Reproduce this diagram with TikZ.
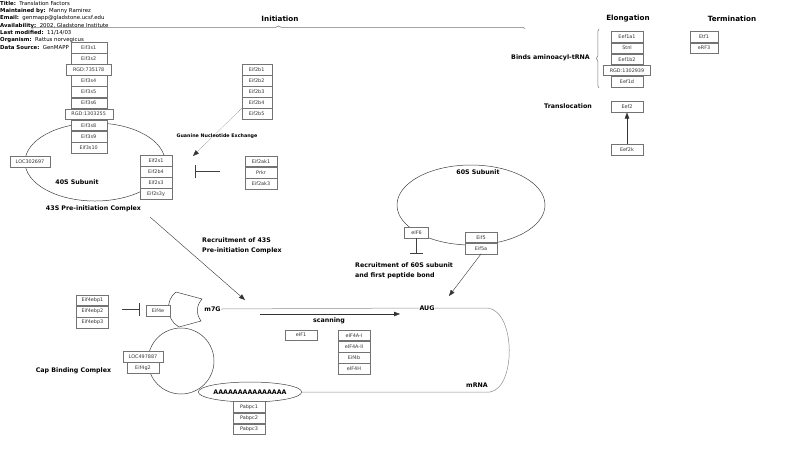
\documentclass[tikz,border=0pt]{standalone}
\usepackage{fontspec}
\setmainfont{DejaVu Sans}
\usetikzlibrary{positioning,arrows.meta,decorations.pathreplacing,shapes.geometric}

\tikzset{
  gene/.style={draw=black!55, fill=white, minimum width=32pt, minimum height=10.7pt, inner sep=0pt, text=black!80, font=\fontsize{4.9}{5.5}\selectfont},
  lbl/.style={font=\fontsize{6.3}{10}\selectfont\bfseries, align=left, inner sep=0pt},
  phase/.style={font=\fontsize{7.2}{8}\selectfont\bfseries},
  part/.style={draw=black!75, line width=0.5pt},
  rna/.style={draw=black!45, line width=0.5pt},
  act/.style={-{Triangle[length=6pt,width=4.5pt]}, black!80, line width=0.4pt},
  inh/.style={-{Bar[width=13pt]}, black!75, line width=0.5pt},
  phasebrace/.style={draw=black!55, line width=0.5pt, decorate, decoration={brace, amplitude=2.5pt}}
}

\begin{document}
\begin{tikzpicture}[x=1pt, y=-1pt]
\useasboundingbox (0,0) rectangle (800,475);

\node[anchor=north west, inner sep=0pt, align=left, font=\fontsize{5.4}{7.33}\selectfont] (meta) at (0,0.8) {%
  \textbf{Title:}\ \ Translation Factors\\
  \textbf{Maintained by:}\ \ Manny Ramirez\\
  \textbf{Email:}\ \ genmapp@gladstone.ucsf.edu\\
  \textbf{Availability:}\ \ 2002, Gladstone Institute\\
  \textbf{Last modified:}\ \ 11/14/03\\
  \textbf{Organism:}\ \ Rattus norvegicus\\
  \textbf{Data Source:}\ \ GenMAPP};

% phases
\draw[phasebrace] (32,28.5) -- (525,28.5);
\node[phase] (init) at (280,19) {Initiation};
\node[phase] (elong) at (628,19) {Elongation};
\node[phase] (term) at (732,19) {Termination};
\draw[phasebrace] (599,88) -- (599,29);
\node[lbl, anchor=east] (tRNA) at (590,58) {Binds aminoacyl-tRNA};

% elongation and termination
\node[gene] (Eef1a1) at (627,37) {Eef1a1};
\node[gene, below=0pt of Eef1a1] (Stnl) {Stnl};
\node[gene, below=0pt of Stnl] (Eef1b2) {Eef1b2};
\node[gene, minimum width=47pt, below=0pt of Eef1b2] (RGD1302939) {RGD:1302939};
\node[gene, below=0pt of RGD1302939] (Eef1d) {Eef1d};
\node[gene, minimum width=28pt] (Etf1) at (704,37) {Etf1};
\node[gene, minimum width=28pt, below=0pt of Etf1] (eRF3) {eRF3};
\node[lbl, anchor=east] (transloc) at (592,106) {Translocation};
\node[gene] (Eef2) at (627,107) {Eef2};
\node[gene] (Eef2k) at (627,150) {Eef2k};
\draw[act] (Eef2k) -- (Eef2);

% 40S subunit
\draw[part] (95,162) ellipse [x radius=70, y radius=39];
\node[gene, minimum width=36pt] (Eif3s1) at (88.7,47.6) {Eif3s1};
\node[gene, minimum width=36pt, below=0pt of Eif3s1] (Eif3s2) {Eif3s2};
\node[gene, minimum width=45pt, below=0pt of Eif3s2] (RGD735178) {RGD:735178};
\node[gene, minimum width=36pt, below=0pt of RGD735178] (Eif3s4) {Eif3s4};
\node[gene, minimum width=36pt, below=0pt of Eif3s4] (Eif3s5) {Eif3s5};
\node[gene, minimum width=36pt, below=0pt of Eif3s5] (Eif3s6) {Eif3s6};
\node[gene, minimum width=48pt, below=0pt of Eif3s6] (RGD1303255) {RGD:1303255};
\node[gene, minimum width=36pt, below=0pt of RGD1303255] (Eif3s8) {Eif3s8};
\node[gene, minimum width=36pt, below=0pt of Eif3s8] (Eif3s9) {Eif3s9};
\node[gene, minimum width=36pt, below=0pt of Eif3s9] (Eif3s10) {Eif3s10};
\node[gene, minimum width=40pt] (LOC302697) at (30,161.5) {LOC302697};
\node[gene] (Eif2s1) at (156,160.5) {Eif2s1};
\node[gene, below=0pt of Eif2s1] (Eif2b4s) {Eif2b4};
\node[gene, below=0pt of Eif2b4s] (Eif2s3) {Eif2s3};
\node[gene, below=0pt of Eif2s3] (Eif2s3y) {Eif2s3y};
\node[lbl] (sub40) at (77,182) {40S Subunit};
\node[lbl] (pre43) at (93.5,209) {43S Pre-initiation Complex};

% eIF2 exchange and kinases
\node[gene, minimum width=30pt] (Eif2b1) at (256.7,69.4) {Eif2b1};
\node[gene, minimum width=30pt, below=0pt of Eif2b1] (Eif2b2) {Eif2b2};
\node[gene, minimum width=30pt, below=0pt of Eif2b2] (Eif2b3) {Eif2b3};
\node[gene, minimum width=30pt, below=0pt of Eif2b3] (Eif2b4) {Eif2b4};
\node[gene, minimum width=30pt, below=0pt of Eif2b4] (Eif2b5) {Eif2b5};
\coordinate (gnetip) at (193,156);
\draw[act, densely dotted] (Eif2b4.south west) -- (gnetip);
\node[lbl, font=\fontsize{4.8}{5}\selectfont\bfseries] (gne) at (217,135.7) {Guanine Nucleotide Exchange};
\node[gene] (Eif2ak1) at (261,161.3) {Eif2ak1};
\node[gene, below=0pt of Eif2ak1] (Prkr) {Prkr};
\node[gene, below=0pt of Prkr] (Eif2ak3) {Eif2ak3};
\coordinate (akfrom) at (220,171.7);
\coordinate (akbar) at (195,171.7);
\draw[inh] (akfrom) -- (akbar);

% recruitment of 43S
\coordinate (r43from) at (150,217);
\coordinate (r43tip) at (245,300);
\draw[act] (r43from) -- (r43tip);
\node[lbl, anchor=north west] (r43) at (202,237.5) {Recruitment of 43S\\Pre-initiation Complex};

% 60S subunit
\draw[part] (471,205) ellipse [x radius=74, y radius=40];
\node[lbl] (sub60) at (478,172) {60S Subunit};
\node[gene, minimum width=24pt] (eIF6) at (416.5,232.5) {eIF6};
\coordinate (eif6bar) at (416.5,253);
\draw[inh] (eIF6) -- (eif6bar);
\node[gene] (Eif5) at (481,237.3) {Eif5};
\node[gene, below=0pt of Eif5] (Eif5a) {Eif5a};
\node[lbl, anchor=north west] (r60) at (355,263) {Recruitment of 60S subunit\\and first peptide bond};
\coordinate (r60tip) at (449,296);
\draw[act] (Eif5a.south) -- (r60tip);

% cap binding complex and mRNA
\draw[part] (181,361) circle [radius=33];
\draw[part, fill=white] (176,292) -- (202,299) .. controls (196,306) and (196,314) .. (201,321)
  -- (179,327) .. controls (166,320) and (165,300) .. (176,292);
\node[ellipse, part, fill=white, minimum width=96pt, minimum height=20pt, inner sep=0pt,
  font=\fontsize{6.3}{7}\selectfont\bfseries] (polyA) at (250,392) {AAAAAAAAAAAAAAA};
\node[lbl] (m7G) at (212.5,309) {m7G};
\node[lbl] (AUG) at (427,308) {AUG};
\node[lbl] (mRNA) at (477,385.5) {mRNA};
\draw[rna] (m7G.east) -- (AUG.west);
\draw[rna] (AUG.east) -- (488,308) .. controls (516,312) and (516,388) .. (490,392) -- (polyA.east);
\coordinate (scanfrom) at (260,314);
\coordinate (scantip) at (400,314);
\draw[act] (scanfrom) -- (scantip);
\node[lbl] (scan) at (329,321) {scanning};
\node[gene] (eIF1) at (301,335.2) {eIF1};
\node[gene] (eIF4AI) at (354,335.3) {eIF4A-I};
\node[gene, below=0pt of eIF4AI] (eIF4AII) {eIF4A-II};
\node[gene, below=0pt of eIF4AII] (Eif4b) {Eif4b};
\node[gene, below=0pt of Eif4b] (eIF4H) {eIF4H};
\node[gene] (Eif4ebp1) at (92.5,300.3) {Eif4ebp1};
\node[gene, below=0pt of Eif4ebp1] (Eif4ebp2) {Eif4ebp2};
\node[gene, below=0pt of Eif4ebp2] (Eif4ebp3) {Eif4ebp3};
\node[gene, minimum width=24pt] (Eif4e) at (158,310.5) {Eif4e};
\coordinate (bpfrom) at (121.7,309.5);
\coordinate (bpbar) at (139,309.5);
\draw[inh] (bpfrom) -- (bpbar);
\node[gene, minimum width=40pt] (LOC497887) at (143,356.8) {LOC497887};
\node[gene, below=0pt of LOC497887] (Eif4g2) {Eif4g2};
\node[lbl] (cbc) at (73.5,370.5) {Cap Binding Complex};
\node[gene] (Pabpc1) at (249,407) {Pabpc1};
\node[gene, below=0pt of Pabpc1] (Pabpc2) {Pabpc2};
\node[gene, below=0pt of Pabpc2] (Pabpc3) {Pabpc3};
\end{tikzpicture}
\end{document}
